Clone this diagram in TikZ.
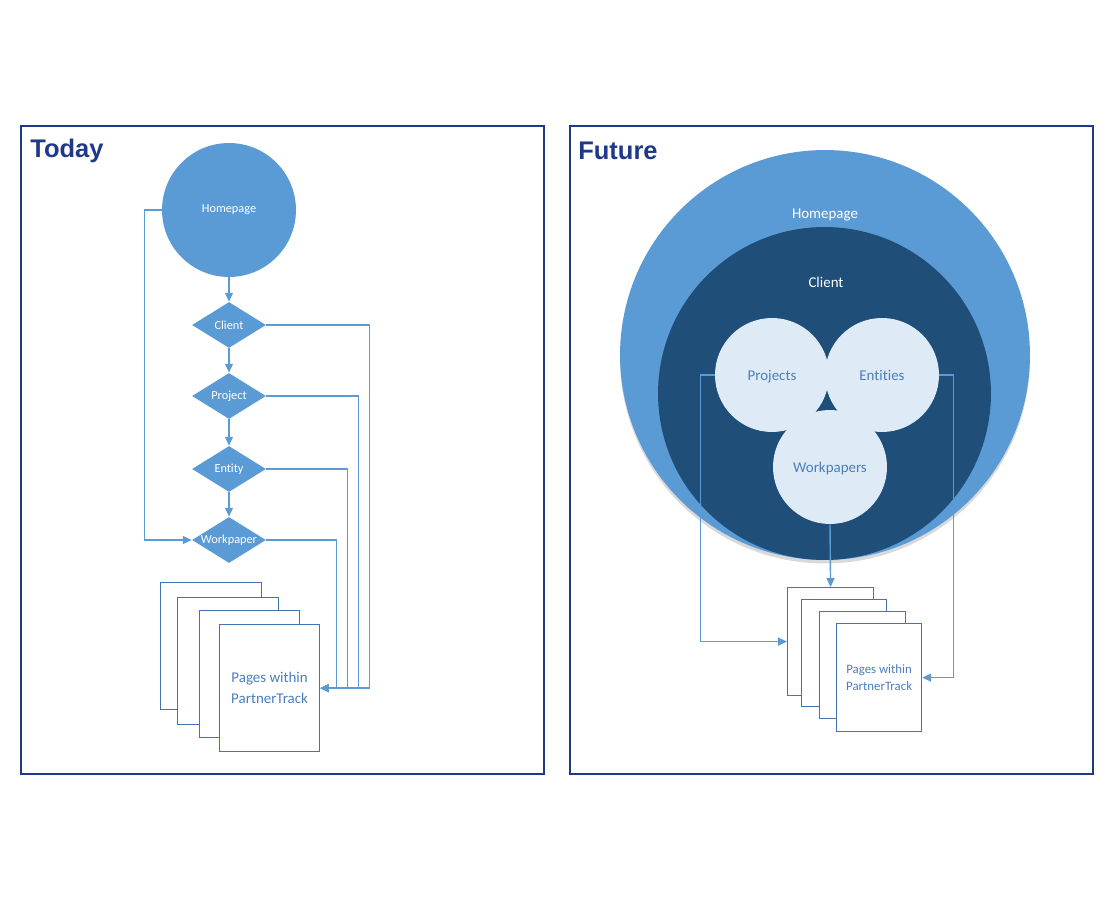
\documentclass[tikz,border=0pt]{standalone}
\usepackage{fontspec}
\setmainfont{Carlito}[Ligatures={NoCommon}]
\newfontfamily\headfont{Liberation Sans}
\usetikzlibrary{positioning, shapes.geometric, arrows.meta, shadows}

\definecolor{panelnavy}{RGB}{31,56,136}
\definecolor{midblue}{RGB}{91,155,213}
\definecolor{darkblue}{RGB}{31,78,121}
\definecolor{paleblue}{RGB}{222,235,247}
\definecolor{pageblue}{RGB}{68,114,180}
\definecolor{textblue}{RGB}{74,126,187}

\begin{document}
\begin{tikzpicture}[x=0.02cm, y=-0.02cm,
    panel/.style={draw=panelnavy, line width=1.1pt},
    heading/.style={anchor=west, inner sep=0, text=panelnavy, font=\headfont\bfseries\fontsize{14.5}{17}\selectfont},
    hub/.style={circle, fill=midblue, minimum size=2.68cm, inner sep=0, text=white, font=\fontsize{7}{8}\selectfont},
    decision/.style={diamond, fill=midblue, minimum width=1.48cm, minimum height=0.92cm, inner sep=0, text=white, font=\fontsize{7}{8}\selectfont},
    page/.style={draw=pageblue, fill=white, line width=0.7pt, anchor=north west, inner sep=0},
    bubble/.style={circle, fill=paleblue, minimum size=2.28cm, inner sep=0, text height=1.6ex, text depth=0.4ex, text=textblue, font=\fontsize{8.5}{10}\selectfont},
    link/.style={draw=midblue, line width=0.8pt},
    arr/.style={link, -{Triangle[length=5pt,width=4.5pt]}}
  ]
  \useasboundingbox (0,0) rectangle (1110,922);

  % Panels
  \draw[panel] (21,126) rectangle (544,774);
  \draw[panel] (570,126) rectangle (1093,774);
  \node[heading] (today)  at (30,151)  {Today};
  \node[heading] (future) at (578,151) {Future};

  % Today: flow
  \node[hub] (home) at (229,210) {Homepage};
  \node[decision] (client)    at (229,325) {\makebox[0pt]{Client}};
  \node[decision] (project)   at (229,396) {\makebox[0pt]{Project}};
  \node[decision] (entity)    at (229,469) {\makebox[0pt]{Entity}};
  \node[decision] (workpaper) at (229,540) {\makebox[0pt]{Workpaper}};

  % Today: pages
  \node[page, minimum width=2.02cm, minimum height=2.54cm] (lp1) at (160,582) {};
  \node[page, minimum width=2.02cm, minimum height=2.54cm] (lp2) at (177,597) {};
  \node[page, minimum width=2.0cm, minimum height=2.54cm] (lp3) at (199,610) {};
  \node[page, minimum width=2.0cm, minimum height=2.54cm, text=textblue, align=center,
        font=\fontsize{8.5}{12}\selectfont] (lp4) at (219,624) {Pages within\\PartnerTrack};

  \draw[arr] (home.south) -- (client.north);
  \draw[arr] (client.south) -- (project.north);
  \draw[arr] (project.south) -- (entity.north);
  \draw[arr] (entity.south) -- (workpaper.north);
  \draw[arr] (home.west) -- ++(-17,0) |- (workpaper.west);
  \draw[arr] (client.east) -- ++(103,0) |- (lp4.east);
  \draw[arr] (project.east) -- ++(92,0) |- (lp4.east);
  \draw[arr] (entity.east) -- ++(81,0) |- (lp4.east);
  \draw[arr] (workpaper.east) -- ++(70,0) |- (lp4.east);

  % Future: nested circles
  \node[circle, fill=midblue, minimum size=8.2cm, inner sep=0,
        drop shadow={shadow xshift=0pt, shadow yshift=-2pt, opacity=0.3}] (homeR) at (825,355) {};
  \node[circle, fill=darkblue, minimum size=6.66cm, inner sep=0] (clientR) at (824.5,393.5) {};
  \node[text=white, font=\fontsize{8.5}{10}\selectfont] (homeRtext) at (825,215) {Homepage};
  \node[text=white, font=\fontsize{8.5}{10}\selectfont] (clientRtext) at (826,282) {Client};
  \node[bubble] (projects)   at (772,375) {Projects};
  \node[bubble] (entities)   at (882,375) {Entities};
  \node[bubble] (workpapers) at (830,467) {Workpapers};

  % Future: pages
  \node[page, minimum width=1.72cm, minimum height=2.16cm] (rp1) at (787,587) {};
  \node[page, minimum width=1.7cm, minimum height=2.14cm] (rp2) at (801,599) {};
  \node[page, minimum width=1.72cm, minimum height=2.14cm] (rp3) at (819,611) {};
  \node[page, minimum width=1.7cm, minimum height=2.16cm, text=textblue, align=center,
        font=\fontsize{7.3}{10}\selectfont] (rp4) at (836,623) {Pages within\\PartnerTrack};

  \draw[arr] (projects.west) -- ++(-14,0) |- (rp1.west);
  \draw[arr] (entities.east) -- ++(14,0) |- (rp4.east);
  \draw[arr] (workpapers.south) -- (rp1.north);

\end{tikzpicture}
\end{document}
